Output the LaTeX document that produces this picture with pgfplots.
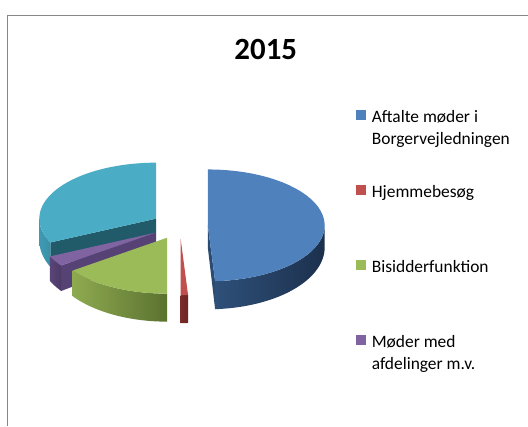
\documentclass[border=0pt]{standalone}
\usepackage{pgfplots}
\pgfplotsset{compat=1.18}
\usepackage{fontspec}
\setmainfont{Carlito}
\definecolor{cBlue}{HTML}{4F81BD}
\definecolor{cRed}{HTML}{C0504D}
\definecolor{cGreen}{HTML}{9BBB59}
\definecolor{cPurple}{HTML}{8064A2}
\definecolor{cCyan}{HTML}{4BACC6}
\definecolor{frameGray}{HTML}{878787}
\definecolor{cyanCut}{HTML}{215A69}
\definecolor{cyanWallL}{HTML}{3E9AB3}
\definecolor{cyanWallR}{HTML}{3890A8}
\definecolor{blueCut}{HTML}{2B4B72}
\definecolor{blueWallL}{HTML}{2E5079}
\definecolor{blueWallR}{HTML}{1C304D}
\definecolor{purpleCut}{HTML}{574275}
\definecolor{purpleWallL}{HTML}{5A4578}
\definecolor{purpleWallR}{HTML}{4C3A66}
\definecolor{greenWallL}{HTML}{8EAA50}
\definecolor{greenWallR}{HTML}{5B7230}
\definecolor{redWallL}{HTML}{7A2C2A}
\definecolor{redWallR}{HTML}{6A2624}
% pie values (percent), clockwise from 12 o'clock
\def\vA{49}% Aftalte moeder i Borgervejledningen
\def\vB{1}% Hjemmebesoeg
\def\vC{15}% Bisidderfunktion
\def\vD{3}% Moeder med afdelinger m.v.
\def\vE{32}% (fifth category, legend cut off)
% geometry (in pixel units of the picture)
\def\R{117}\def\RY{56}\def\D{22}\def\DV{6}\def\CX{180}\def\CY{226}\def\EX{28}\def\EY{13.4}
\newcommand{\topface}[5]{%
  \addplot[draw=none, fill=#5, samples at={0,...,42}]
    ({#3 + ifthenelse(or(x<0.5,x>41.5), 0, \R*cos(#1+(x-1)*(#2-#1)/40))},
     {#4 - ifthenelse(or(x<0.5,x>41.5), 0, \RY*sin(#1+(x-1)*(#2-#1)/40))});
}
\newcommand{\wall}[6]{%
  \addplot[draw=none, left color=#5, right color=#6, samples at={0,...,81}]
    ({#3 + \R*cos(ifthenelse(x<40.5, #1+x*(#2-#1)/40, #2-(x-41)*(#2-#1)/40))},
     {#4 - (\RY+\DV)*sin(ifthenelse(x<40.5, #1+x*(#2-#1)/40, #2-(x-41)*(#2-#1)/40))
          + ifthenelse(x<40.5,0,\D)
          + ifthenelse(x<40.5,1,0)*\DV*sin(ifthenelse(x<40.5, #1+x*(#2-#1)/40, #2-(x-41)*(#2-#1)/40))});
}
\newcommand{\radial}[4]{%
  \addplot[draw=none, fill=#4, samples at={0,1,2,3}]
    ({#2 + ifthenelse(or(x<0.5,x>2.5),0,\R*cos(#1))},
     {#3 - ifthenelse(or(x<0.5,x>2.5),0,\RY*sin(#1)) + ifthenelse(x>1.5,\D,0)
         - ifthenelse(and(x>1.5,x<2.5),\DV*sin(#1),0)});
}
\begin{document}
\begin{tikzpicture}
\begin{axis}[width=528bp,height=426bp,scale only axis,
  xmin=0,xmax=528,ymin=0,ymax=426,y dir=reverse,hide axis,clip=false]
\fill[white] (axis cs:0,0) rectangle (axis cs:528,426);
\draw[frameGray, line width=1bp] (axis cs:7.5,426) -- (axis cs:7.5,15.5) -- (axis cs:528,15.5);
% angles
\pgfmathsetmacro\aA{90}
\pgfmathsetmacro\aB{\aA-3.6*\vA}
\pgfmathsetmacro\aC{\aB-3.6*\vB}
\pgfmathsetmacro\aD{\aC-3.6*\vC}
\pgfmathsetmacro\aE{\aD-3.6*\vD}
\pgfmathsetmacro\aF{\aE-3.6*\vE}
% ---- cyan slice (back) ----
\pgfmathsetmacro\m{(\aE+\aF)/2}
\pgfmathsetmacro\cx{\CX+\EX*cos(\m)}\pgfmathsetmacro\cy{\CY-\EY*sin(\m)}
\radial{\aE}{\cx}{\cy}{cyanCut}
\wall{-180}{\aE}{\cx}{\cy}{cyanWallL}{cyanWallR}
\topface{\aF}{\aE}{\cx}{\cy}{cCyan}
% ---- blue slice ----
\pgfmathsetmacro\m{(\aA+\aB)/2}
\pgfmathsetmacro\cx{\CX+\EX*cos(\m)}\pgfmathsetmacro\cy{\CY-\EY*sin(\m)}
\radial{\aB}{\cx}{\cy}{blueCut}
\wall{\aB}{0}{\cx}{\cy}{blueWallL}{blueWallR}
\topface{\aB}{\aA}{\cx}{\cy}{cBlue}
% ---- purple slice ----
\pgfmathsetmacro\m{(\aD+\aE)/2}
\pgfmathsetmacro\cx{\CX+\EX*cos(\m)}\pgfmathsetmacro\cy{\CY-\EY*sin(\m)}
\radial{\aD}{\cx}{\cy}{purpleCut}
\wall{\aE}{\aD}{\cx}{\cy}{purpleWallL}{purpleWallR}
\topface{\aE}{\aD}{\cx}{\cy}{cPurple}
% ---- green slice ----
\pgfmathsetmacro\m{(\aC+\aD)/2}
\pgfmathsetmacro\cx{\CX+\EX*cos(\m)}\pgfmathsetmacro\cy{\CY-\EY*sin(\m)}
\wall{\aD}{\aC}{\cx}{\cy}{greenWallL}{greenWallR}
\topface{\aD}{\aC}{\cx}{\cy}{cGreen}
% ---- red slice ----
\pgfmathsetmacro\m{(\aB+\aC)/2}
\pgfmathsetmacro\cx{\CX+\EX*cos(\m)}\pgfmathsetmacro\cy{\CY-\EY*sin(\m)}
\wall{\aC}{\aB}{\cx}{\cy}{redWallL}{redWallR}
\topface{\aC}{\aB}{\cx}{\cy}{cRed}
% ---- title ----
\node[anchor=base, font=\fontsize{31}{36}\selectfont\bfseries] at (axis cs:266,60) {2015};
% ---- legend ----
\begin{scope}[every node/.style={anchor=base west, inner sep=0pt, font=\fontsize{17.5}{22}\selectfont}]
\fill[cBlue] (axis cs:356,110) rectangle (axis cs:366,120);
\node at (axis cs:372,123) {Aftalte møder i};
\node at (axis cs:372,145) {Borgervejledningen};
\fill[cRed] (axis cs:356,185) rectangle (axis cs:366,195);
\node at (axis cs:372,198) {Hjemmebesøg};
\fill[cGreen] (axis cs:356,260) rectangle (axis cs:366,270);
\node at (axis cs:372,273) {Bisidderfunktion};
\fill[cPurple] (axis cs:356,335) rectangle (axis cs:366,345);
\node at (axis cs:372,348) {Møder med};
\node at (axis cs:372,370) {afdelinger m.v.};
\end{scope}
\end{axis}
\end{tikzpicture}
\end{document}
